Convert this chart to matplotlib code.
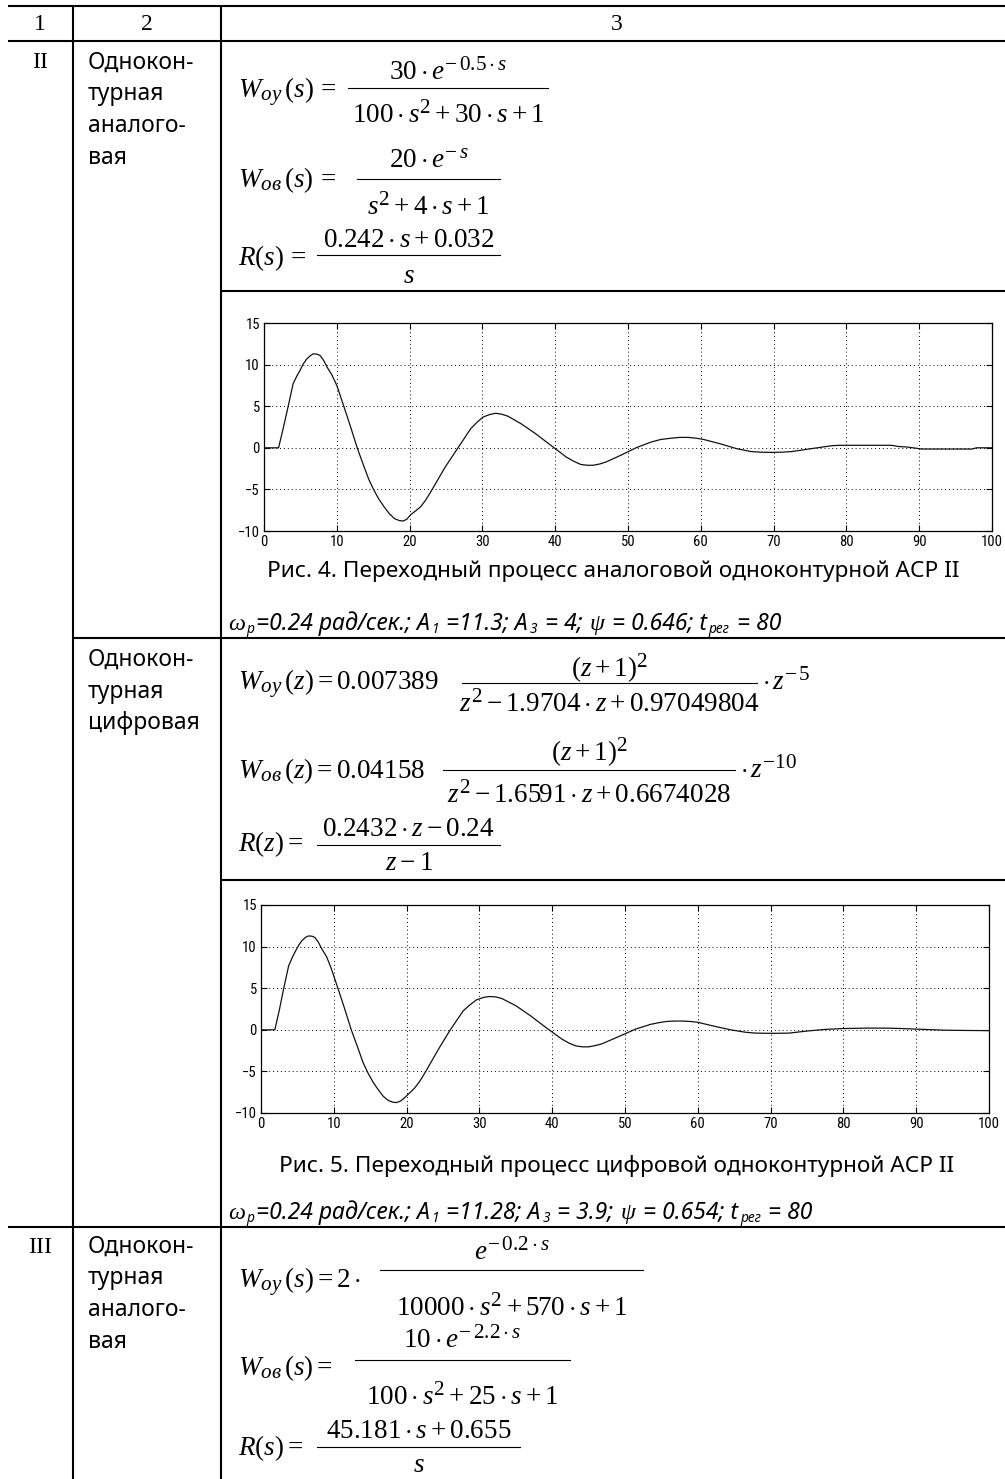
import matplotlib
matplotlib.use("Agg")
import matplotlib.pyplot as plt
from matplotlib import font_manager
import matplotlib._mathtext as mathtext_core

# ── Fonts ─────────────────────────────────────────────────────────────────────
plt.rcParams["mathtext.fontset"] = "custom"
plt.rcParams["mathtext.rm"] = "Liberation Serif"
plt.rcParams["mathtext.it"] = "Liberation Serif:italic"
plt.rcParams["mathtext.bf"] = "Liberation Serif:bold"
# equation-editor style: indices a bit larger than TeX's default
mathtext_core.SHRINK_FACTOR = 0.78

_installed = {f.name for f in font_manager.fontManager.ttflist}
TICK_FONT = next(n for n in ["Liberation Sans Narrow", "Roboto Condensed", "DejaVu Sans"]
                 if n in _installed)
SANS = "Noto Sans"
SERIF = "Liberation Serif"
FS_TEXT = 16.5
FS_CAPTION = 16.3
FS_PARAMS = 16.5
FS_MATH = 19.5

# ── Transient responses ─────────────────────────────────────────────────────────
t_analog = [0, 2.0, 2.6, 3.3, 4.0, 4.5, 4.95, 5.4, 5.9, 6.4, 6.8, 7.3, 7.7, 8.2,
            8.66, 9.3, 10.0, 11.0, 11.9, 12.8, 13.75, 14.4, 15.1, 15.8, 16.5,
            17.2, 17.9, 18.6, 19.1, 19.6, 20.2, 20.8, 21.5, 22.2, 22.9, 24.9,
            26.65, 28.4, 29.3, 30.1, 31.0, 31.8, 32.6, 33.5, 35.3, 37.3, 39.4,
            41.5, 42.5, 43.5, 44.4, 45.2, 46.1, 47.0, 49.0, 51.1, 53.2, 54.5,
            55.9, 57.1, 58.3, 59.4, 60.4, 62.8, 64.9, 66.9, 68.3, 69.7, 71.1,
            72.5, 75.2, 78.0, 79.0, 86.2, 87.2, 88.3, 90.4, 97.2, 97.9, 100]
y_analog = [0, 0, 2.2, 4.9, 7.7, 8.6, 9.3, 10.1, 10.7, 11.1, 11.3, 11.25, 11.1,
            10.5, 9.7, 8.8, 7.5, 4.9, 2.5, 0, -2.3, -3.8, -5.1, -6.2, -7.1,
            -7.9, -8.5, -8.75, -8.8, -8.6, -8.0, -7.6, -7.1, -6.3, -5.3, -2.3,
            0, 2.3, 3.1, 3.7, 4.0, 4.15, 4.05, 3.8, 2.9, 1.7, 0.3, -1.1, -1.6,
            -2.0, -2.1, -2.1, -1.95, -1.7, -0.9, 0, 0.7, 1.0, 1.15, 1.25, 1.25,
            1.15, 1.0, 0.45, -0.1, -0.45, -0.53, -0.55, -0.53, -0.45, -0.1,
            0.25, 0.3, 0.3, 0.15, 0.1, -0.15, -0.15, 0, 0]

t_digital = [0, 1.9, 2.5, 3.1, 3.8, 4.3, 4.7, 5.2, 5.6, 6.1, 6.5, 7.0, 7.4, 7.9,
             8.3, 9.0, 9.6, 10.6, 11.5, 12.4, 13.4, 14.0, 14.7, 15.4, 16.1,
             16.8, 17.5, 18.1, 18.6, 19.2, 19.8, 20.4, 21.1, 21.8, 22.5, 24.4,
             26.0, 27.8, 28.7, 29.6, 30.6, 31.4, 32.3, 33.1, 35.0, 37.0, 39.1,
             41.3, 42.3, 43.3, 44.2, 45.0, 45.9, 46.8, 48.9, 51.5, 53.5, 54.6,
             55.7, 56.8, 57.9, 59.0, 60.0, 62.4, 64.5, 66.6, 68.0, 69.5, 71.0,
             72.5, 75.0, 77.5, 80.0, 83.0, 86.0, 88.0, 91.0, 94.0, 97.0, 100]
y_digital = [0, 0, 2.3, 4.9, 7.7, 8.7, 9.4, 10.2, 10.7, 11.1, 11.28, 11.25,
             11.1, 10.5, 9.8, 8.8, 7.5, 4.9, 2.5, 0, -2.4, -3.9, -5.2, -6.3,
             -7.2, -8.0, -8.5, -8.7, -8.75, -8.55, -8.1, -7.6, -7.0, -6.2, -5.2,
             -2.3, 0, 2.3, 3.0, 3.6, 3.9, 4.0, 3.95, 3.75, 2.9, 1.7, 0.3, -1.1,
             -1.6, -1.95, -2.05, -2.05, -1.9, -1.7, -0.9, 0.1, 0.65, 0.85, 1.0,
             1.05, 1.05, 1.0, 0.9, 0.4, 0, -0.3, -0.4, -0.42, -0.42, -0.4,
             -0.15, 0.05, 0.15, 0.2, 0.2, 0.15, 0.05, -0.05, -0.08, -0.1]

x_ticks = list(range(0, 101, 10))
y_ticks = list(range(-10, 16, 5))

# ── Table text ────────────────────────────────────────────────────────────────
header = ["1", "2", "3"]
row_ids = ["II", "III"]
kind_analog = ["Однокон-", "турная", "аналого-", "вая"]
kind_digital = ["Однокон-", "турная", "цифровая"]
caption_4 = "Рис. 4. Переходный процесс аналоговой одноконтурной АСР II"
caption_5 = "Рис. 5. Переходный процесс цифровой одноконтурной АСР II"
params_4 = [("ω", "greek"), ("p", "sub"), ("=0.24 рад/сек.; A", "main"), ("1", "sub"),
            (" =11.3; A", "main"), ("3", "sub"), (" = 4; ", "main"), ("ψ", "greek"),
            (" = 0.646; t", "main"), ("рег", "sub"), (" = 80", "main")]
params_5 = [("ω", "greek"), ("p", "sub"), ("=0.24 рад/сек.; A", "main"), ("1", "sub"),
            (" =11.28; A", "main"), ("3", "sub"), (" = 3.9; ", "main"), ("ψ", "greek"),
            (" = 0.654; t", "main"), ("рег", "sub"), (" = 80", "main")]

# transfer functions: lhs, numerator, denominator, trailing factor
formulas = [
    (r"$W_{oy}\,(s)\,=$", r"$30\cdot e^{-\,0.5\cdot s}$", r"$100\cdot s^{2}+30\cdot s+1$", None),
    (r"$W_{\mathit{ов}}\,(s)\,=$", r"$20\cdot e^{-\,s}$", r"$s^{2}+4\cdot s+1$", None),
    (r"$R(s)\,=$", r"$0.242\cdot s+0.032$", r"$s$", None),
    (r"$W_{oy}\,(z)=0.007389$", r"$(z+1)^{2}$", r"$z^{2}-1.9704\cdot z+0.97049804$",
     r"$\cdot\,z^{-\,5}$"),
    (r"$W_{\mathit{ов}}\,(z)=0.04158$", r"$(z+1)^{2}$", r"$z^{2}-1.6591\cdot z+0.6674028$",
     r"$\cdot\,z^{-10}$"),
    (r"$R(z)=$", r"$0.2432\cdot z-0.24$", r"$z-1$", None),
    (r"$W_{oy}\,(s)=2\cdot$", r"$e^{-\,0.2\cdot s}$", r"$10000\cdot s^{2}+570\cdot s+1$", None),
    (r"$W_{\mathit{ов}}\,(s)=$", r"$10\cdot e^{-\,2.2\cdot s}$", r"$100\cdot s^{2}+25\cdot s+1$", None),
    (r"$R(s)=$", r"$45.181\cdot s+0.655$", r"$s$", None),
]
# layout: lhs baseline, bar x0, bar x1, bar y, numerator baseline, denominator baseline, tail x
formula_layout = [
    (98, 348, 548, 88, 80, 123, None),
    (187, 357, 500, 179, 168, 215, None),
    (265, 317, 500, 255, 247, 283, None),
    (690, 462, 757, 683, 676, 712, 762),
    (778, 443, 735, 770, 760, 803, 740),
    (851, 317, 500, 845, 836, 870, None),
    (1288, 380, 643, 1270, 1260, 1316, None),
    (1375, 355, 570, 1360, 1348, 1405, None),
    (1455, 317, 520, 1447, 1438, 1472, None),
]

W, H = 1005, 1479
fig = plt.figure(figsize=(W / 100, H / 100), dpi=100)
page = fig.add_axes([0, 0, 1, 1])
page.set_xlim(0, W)
page.set_ylim(H, 0)
page.axis("off")
renderer = fig.canvas.get_renderer()


def hline(y, x0, x1=W):
    page.plot([x0, x1], [y, y], color="black", lw=1.5, solid_capstyle="butt")


def vline(x, y0, y1=H):
    page.plot([x, x], [y0, y1], color="black", lw=1.5, solid_capstyle="butt")


def write_runs(x, y, parts, size=FS_PARAMS):
    for s, kind in parts:
        if kind == "sub":
            t = page.text(x, y + 3, s, fontsize=size * 0.6, family=SANS,
                          style="italic", va="baseline")
        elif kind == "greek":
            t = page.text(x, y, s, fontsize=size * 1.05, family=SERIF,
                          style="italic", va="baseline")
        else:
            t = page.text(x, y, s, fontsize=size, family=SANS,
                          style="italic", va="baseline")
        x += t.get_window_extent(renderer).width + 1.5


def px_box(left, top, right, bottom):
    return [left / W, 1 - bottom / H, (right - left) / W, (bottom - top) / H]


def response_axes(box, t, y):
    ax = fig.add_axes(px_box(*box))
    ax.plot(t, y, color="#111111", lw=0.9)
    ax.set_xlim(0, 100)
    ax.set_ylim(-10, 15)
    ax.set_xticks(x_ticks)
    ax.set_yticks(y_ticks)
    ax.grid(True, color="black", linestyle=(0, (1, 3)), linewidth=0.7)
    ax.tick_params(direction="in", top=True, right=True, length=4,
                   labelsize=10.5, pad=3, width=0.8)
    for lab in ax.get_xticklabels() + ax.get_yticklabels():
        lab.set_family(TICK_FONT)
    for sp in ax.spines.values():
        sp.set_linewidth(0.9)
    return ax


# ── Grid of the table ─────────────────────────────────────────────────────────
hline(6, 8)
hline(41, 8)
hline(291, 221)
hline(638, 73)
hline(880, 221)
hline(1227, 8)
vline(73, 6)
vline(221, 6)

for x, s in zip([40, 147, 617], header):
    page.text(x, 30, s, fontsize=17, family=SERIF, ha="center", va="baseline")
page.text(40, 68, row_ids[0], fontsize=17, family=SERIF, ha="center", va="baseline")
page.text(40, 1253, row_ids[1], fontsize=17, family=SERIF, ha="center", va="baseline")

for lines, y0 in [(kind_analog, 69), (kind_digital, 666), (kind_analog, 1253)]:
    for i, s in enumerate(lines):
        page.text(88, y0 + 31.5 * i, s, fontsize=FS_TEXT, family=SANS, va="baseline")

# ── Formulas ──────────────────────────────────────────────────────────────────
for (lhs, num, den, tail), (yb, x0, x1, ybar, yn, yd, xt) in zip(formulas, formula_layout):
    page.text(238, yb, lhs, fontsize=FS_MATH, va="baseline")
    page.plot([x0, x1], [ybar, ybar], color="black", lw=0.8)
    xc = (x0 + x1) / 2
    page.text(xc, yn, num, fontsize=FS_MATH, ha="center", va="baseline")
    page.text(xc, yd, den, fontsize=FS_MATH, ha="center", va="baseline")
    if tail:
        page.text(xt, yb, tail, fontsize=FS_MATH, va="baseline")

# ── Step responses ────────────────────────────────────────────────────────────
response_axes((264, 323, 992, 531), t_analog, y_analog)
response_axes((261, 905, 989, 1113), t_digital, y_digital)

page.text(613, 577, caption_4, fontsize=FS_CAPTION, family=SANS, ha="center", va="baseline")
page.text(617, 1172, caption_5, fontsize=FS_CAPTION, family=SANS, ha="center", va="baseline")
write_runs(228, 630, params_4)
write_runs(228, 1219, params_5)

fig.savefig("out.png", dpi=100)
